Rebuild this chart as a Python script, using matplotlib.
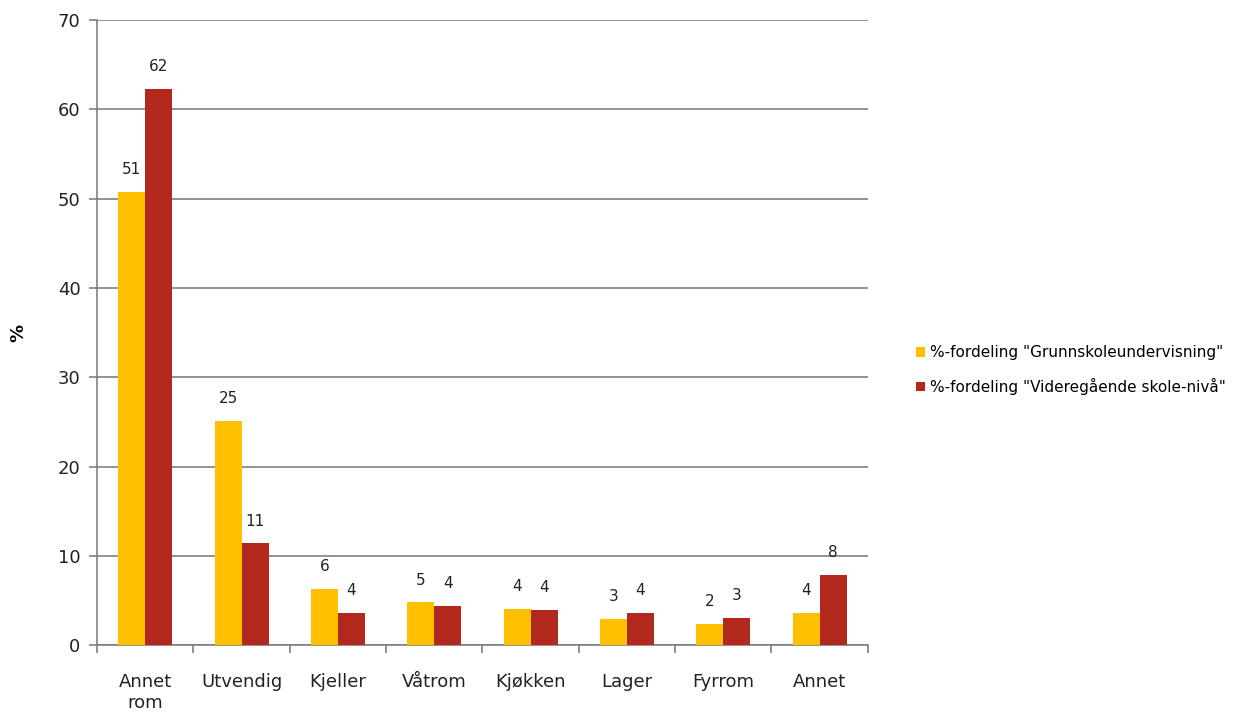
import matplotlib
matplotlib.use("Agg")
import matplotlib.pyplot as plt
import numpy as np

# Data
categories = ["Annet\nrom", "Utvendig", "Kjeller", "Våtrom", "Kjøkken", "Lager", "Fyrrom", "Annet"]
grunnskole = [50.8, 25.1, 6.3, 4.8, 4.1, 3.0, 2.4, 3.6]
videregaende = [62.3, 11.4, 3.6, 4.4, 4.0, 3.6, 3.1, 7.9]
series_names = ['%-fordeling "Grunnskoleundervisning"', '%-fordeling "Videregående skole-nivå"']

plt.rcParams['font.family'] = ['DejaVu Sans']
yellow = '#FFC000'
red = '#B3281C'
grey = '#808080'

fig = plt.figure(figsize=(12.45, 7.17), dpi=100)
ax = fig.add_axes([0.078, 0.1, 0.619, 0.872])

x = np.arange(len(categories))
w = 0.28
b1 = ax.bar(x - w / 2, grunnskole, w, color=yellow, label=series_names[0], zorder=3)
b2 = ax.bar(x + w / 2, videregaende, w, color=red, label=series_names[1], zorder=3)

for bars, vals in ((b1, grunnskole), (b2, videregaende)):
    for rect, v in zip(bars, vals):
        ax.annotate(f"{v:.0f}", (rect.get_x() + rect.get_width() / 2, v),
                    xytext=(0, 16), textcoords='offset points',
                    ha='center', va='center', fontsize=11, color='#222222')

ax.set_xlim(-0.5, len(categories) - 0.5)
ax.set_ylim(0, 70)
ax.set_yticks(range(0, 71, 10))
ax.yaxis.grid(True, color=grey, linewidth=1.2, zorder=0)
ax.set_axisbelow(True)

# category labels in the middle, tick marks on the boundaries
ax.set_xticks(x)
ax.set_xticklabels(categories, fontsize=13, color='#222222', linespacing=1.2)
ax.tick_params(axis='x', length=0, pad=20)
ax.set_xticks(np.arange(-0.5, len(categories), 1), minor=True)
ax.tick_params(axis='x', which='minor', length=6, width=1.2, color=grey, direction='out')
ax.tick_params(axis='y', length=6, width=1.2, color=grey, labelsize=13, labelcolor='#222222', pad=6)

for s in ['top', 'right']:
    ax.spines[s].set_visible(False)
for s in ['left', 'bottom']:
    ax.spines[s].set_color(grey)
    ax.spines[s].set_linewidth(1.2)

fig.text(18 / 1245, 1 - 333 / 717, '%', fontsize=13, fontweight='bold',
         rotation=90, ha='center', va='center')

ax.legend(loc='center left', bbox_to_anchor=(1.045, 0.44), frameon=False, fontsize=11,
          handlelength=0.6, handleheight=0.6, handletextpad=0.3, labelspacing=1.15)

fig.savefig("out.png", dpi=100)
